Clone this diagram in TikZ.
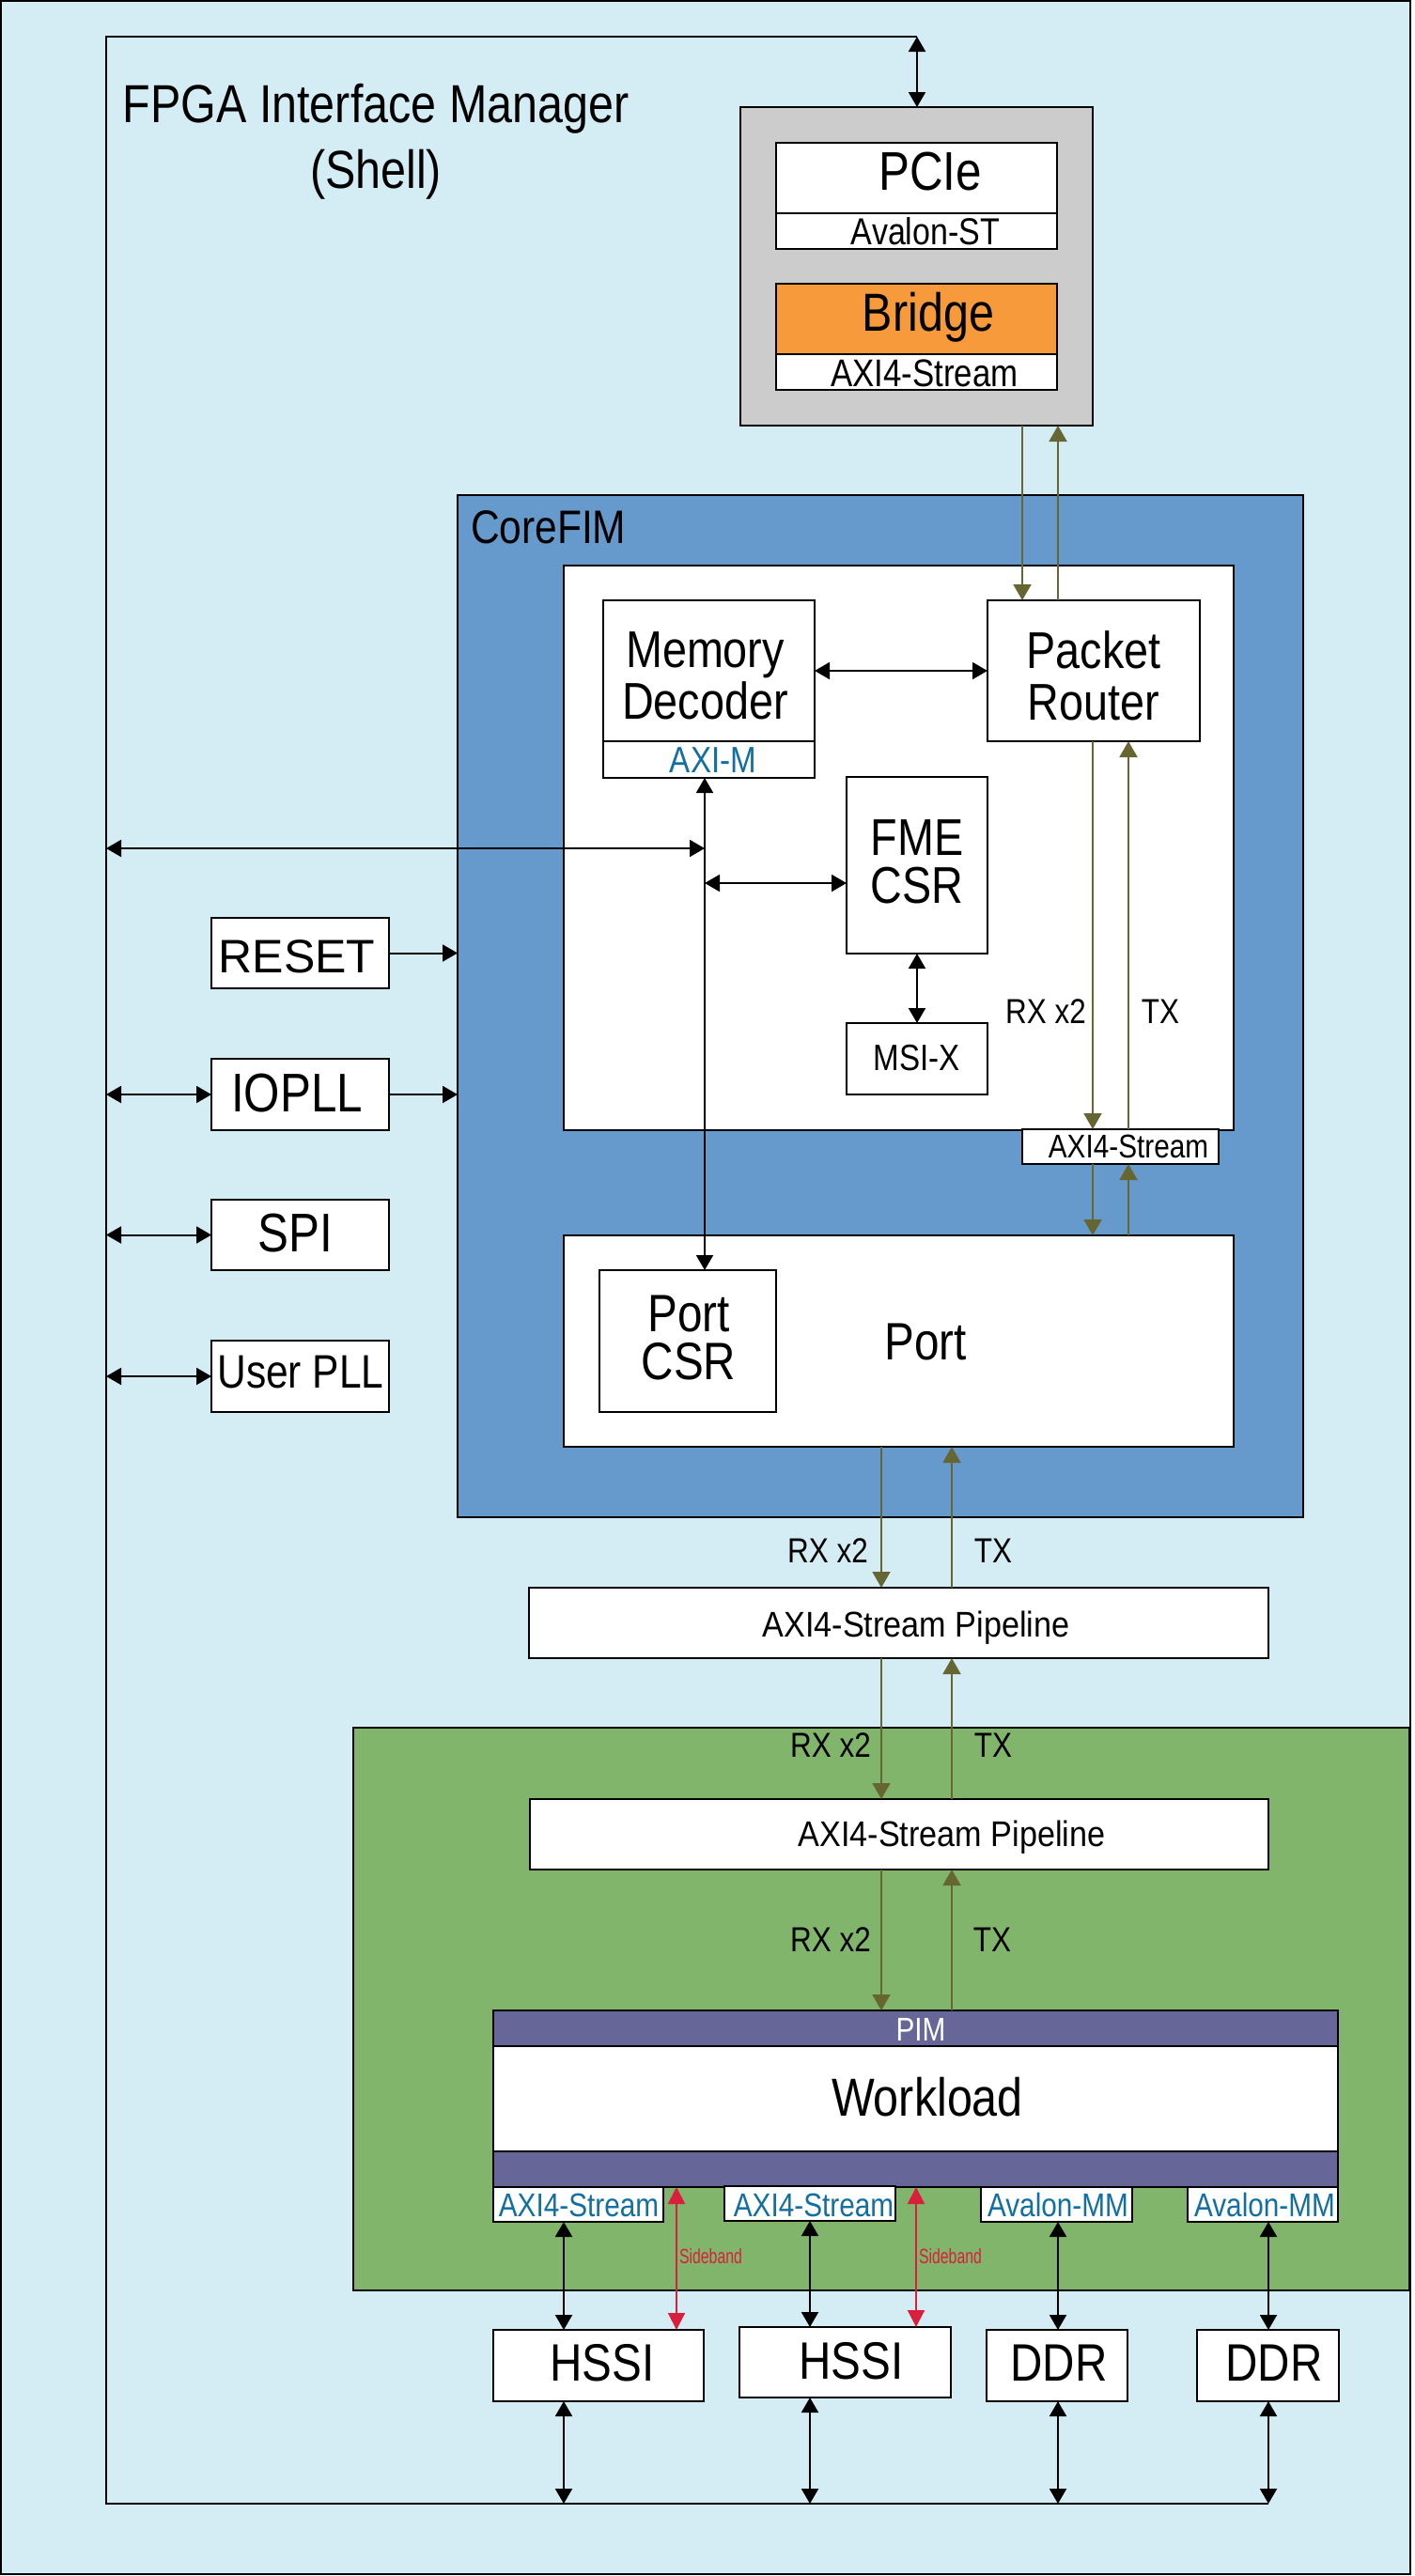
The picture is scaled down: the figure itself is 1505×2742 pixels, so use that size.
\documentclass[tikz,border=0pt]{standalone}
\usepackage{fontspec}
\setmainfont{Liberation Sans}[FakeStretch=0.85]
\newfontfamily\widefont{Liberation Sans}
\newfontfamily\midfont{Liberation Sans}[FakeStretch=0.9]
\newfontfamily\sbfont{Liberation Sans}[FakeStretch=0.72]
\usetikzlibrary{arrows.meta,fit}
\definecolor{bgblue}{HTML}{D4EDF4}
\definecolor{greyc}{HTML}{CCCCCC}
\definecolor{orangec}{HTML}{F79A3B}
\definecolor{corec}{HTML}{6699CC}
\definecolor{greenc}{HTML}{80B56B}
\definecolor{pimc}{HTML}{666699}
\definecolor{olivec}{HTML}{666633}
\definecolor{tblue}{HTML}{136FA0}
\definecolor{sbred}{HTML}{D91F3C}
\newcommand\fsz[1]{\fontsize{#1pt}{#1pt}\selectfont}
\begin{document}
\begin{tikzpicture}[x=1pt,y=-1pt,
 box/.style={draw=black,line width=2pt,fill=white,inner sep=0pt,outer sep=0pt},
 txt/.style={inner sep=0pt,outer sep=0pt,anchor=base},
 two/.style={inner sep=0pt,outer sep=0pt,anchor=center,align=center,
   font={\fontsize{#1pt}{51pt}\selectfont\lineskiplimit=-100pt}},
 twob/.style={inner sep=0pt,outer sep=0pt,anchor=center,align=center,
   font={\fontsize{#1pt}{55pt}\selectfont\lineskiplimit=-100pt}},
 dbl/.style={line width=2pt,draw=black,{Triangle[length=16pt,width=18pt]}-{Triangle[length=16pt,width=18pt]}},
 one/.style={line width=2pt,draw=black,-{Triangle[length=16pt,width=18pt]}},
 oli/.style={line width=2pt,draw=olivec,-{Triangle[length=17pt,width=19pt]}},
 sbarrow/.style={line width=2pt,draw=sbred,{Triangle[length=18pt,width=18pt]}-{Triangle[length=18pt,width=18pt]}}]
\useasboundingbox (0,0) rectangle (1505,2742);
\fill[white] (0,0) rectangle (1505,2742);
\fill[bgblue] (1,1) rectangle (1501,2740);
\draw[line width=2.5pt] (1,1) rectangle (1501,2740);
% loop
\coordinate (lpTop) at (976,39);
\coordinate (lpTL) at (113,39);
\coordinate (lpBL) at (113,2665);
\coordinate (lpBR) at (1350,2665);
\draw[line width=2.5pt] (lpTop) -- (lpTL) -- (lpBL) -- (lpBR);
% title
\node[txt] (t1) at (400,130) {\fsz{57}FPGA Interface Manager};
\node[txt] (t2) at (400,200) {\fsz{57}(Shell)};
% grey PCIe block
\node[box,fill=greyc,fit={(788,114)(1163,453)}] (grey) {};
\node[box,fit={(826,152)(1125,227)}] (pcie) {};
\node[box,fit={(826,227)(1125,265)}] (avst) {};
\node[box,fill=orangec,fit={(826,302)(1125,377)}] (bridge) {};
\node[box,fit={(826,377)(1125,415)}] (baxis) {};
\node[txt] (tpcie) at (990,202) {\fsz{58}PCIe};
\node[txt] (tavst) at (985,260) {\fsz{40}Avalon-ST};
\node[txt] (tbridge) at (988,352) {\fsz{57}Bridge};
\node[txt] (tbaxis) at (984,411) {\fsz{41}AXI4-Stream};
% CoreFIM
\node[box,fill=corec,fit={(487,527)(1387,1615)}] (cf) {};
\node[txt,anchor=base west] (tcf) at (501,578) {\fsz{50}CoreFIM};
\node[box,fit={(600,602)(1313,1203)}] (cfin) {};
\node[box,fit={(642,639)(867,789)}] (md) {};
\node[box,fit={(642,789)(867,828)}] (axim) {};
\node[box,fit={(1051,639)(1277,789)}] (pr) {};
\node[box,fit={(901,827)(1051,1015)}] (fme) {};
\node[box,fit={(901,1089)(1051,1165)}] (msi) {};
\node[box,fit={(1088,1202)(1297,1239)}] (axis) {};
\node[twob=55] (tmd) at (750.5,719) {Memory\\Decoder};
\node[txt,text=tblue] (taxim) at (759,822) {\fsz{39}AXI-M};
\node[twob=55] (tpr) at (1164,719) {Packet\\Router};
\node[two=55] (tfme) at (976,917) {FME\\CSR};
\node[txt] (tmsi) at (976,1139) {\fsz{39}MSI-X};
\node[txt] (trx0) at (1113,1089) {\fsz{37}RX x2};
\node[txt] (ttx0) at (1235,1089) {\fsz{37}TX};
\node[txt] (taxis) at (1201,1232) {\fsz{35}AXI4-Stream};
\node[box,fit={(600,1315)(1313,1540)}] (port) {};
\node[box,fit={(638,1352)(826,1503)}] (pcsr) {};
\node[two=56] (tpcsr) at (733,1424) {Port\\CSR};
\node[txt] (tport) at (985,1447) {\fsz{56}Port};
% left blocks
\node[box,fit={(225,977)(414,1052)}] (reset) {};
\node[box,fit={(225,1127)(414,1203)}] (iopll) {};
\node[box,fit={(225,1277)(414,1352)}] (spi) {};
\node[box,fit={(225,1427)(414,1503)}] (upll) {};
\node[txt] (treset) at (316,1035) {\widefont\fsz{50}RESET};
\node[txt] (tiopll) at (316,1183) {\fsz{58}IOPLL};
\node[txt] (tspi) at (314,1332) {\fsz{58}SPI};
\node[txt] (tupll) at (320,1477) {\fsz{50}User PLL};
% pipeline 1
\node[box,fit={(563,1690)(1350,1765)}] (pipe1) {};
\node[txt] (tpipe1) at (975,1742) {\midfont\fsz{38}AXI4-Stream Pipeline};
\node[txt] (trx1) at (881,1663) {\fsz{37}RX x2};
\node[txt] (ttx1) at (1057,1663) {\fsz{37}TX};
% green region
\node[box,fill=greenc,line width=2.5pt,fit={(376,1839)(1500,2438)}] (grn) {};
\node[txt] (trx2) at (884,1870) {\fsz{37}RX x2};
\node[txt] (ttx2) at (1057,1870) {\fsz{37}TX};
\node[box,fit={(564,1915)(1350,1990)}] (pipe2) {};
\node[txt] (tpipe2) at (1013,1965) {\midfont\fsz{38}AXI4-Stream Pipeline};
\node[txt] (trx3) at (884,2077) {\fsz{37}RX x2};
\node[txt] (ttx3) at (1056,2077) {\fsz{37}TX};
\node[box,fill=pimc,fit={(525,2140)(1424,2178)}] (pim) {};
\node[box,fit={(525,2178)(1424,2290)}] (wl) {};
\node[box,fill=pimc,fit={(525,2290)(1424,2328)}] (wlb) {};
\node[txt,text=white] (tpim) at (980,2172) {\fsz{35}PIM};
\node[txt] (twl) at (987,2252) {\fsz{57}Workload};
\node[box,fit={(525,2328)(706,2365)}] (if1) {};
\node[box,fit={(771,2327)(953,2364)}] (if2) {};
\node[box,fit={(1044,2328)(1205,2365)}] (if3) {};
\node[box,fit={(1264,2328)(1424,2365)}] (if4) {};
\node[txt,text=tblue] (tif1) at (616,2359) {\fsz{35}AXI4-Stream};
\node[txt,text=tblue] (tif2) at (866,2359) {\fsz{35}AXI4-Stream};
\node[txt,text=tblue] (tif3) at (1126,2359) {\fsz{35}Avalon-MM};
\node[txt,text=tblue] (tif4) at (1346,2359) {\fsz{35}Avalon-MM};
\node[txt,anchor=base west,text=sbred] (tsb1) at (723,2409) {\sbfont\fsz{22}Sideband};
\node[txt,anchor=base west,text=sbred] (tsb2) at (978,2409) {\sbfont\fsz{22}Sideband};
% devices
\node[box,fit={(525,2480)(749,2556)}] (hssi1) {};
\node[box,fit={(787,2477)(1012,2552)}] (hssi2) {};
\node[box,fit={(1050,2480)(1200,2556)}] (ddr1) {};
\node[box,fit={(1274,2480)(1425,2556)}] (ddr2) {};
\node[txt] (thssi1) at (641,2534) {\fsz{56}HSSI};
\node[txt] (thssi2) at (906,2532) {\fsz{56}HSSI};
\node[txt] (tddr1) at (1127,2534) {\fsz{56}DDR};
\node[txt] (tddr2) at (1356,2534) {\fsz{56}DDR};
% coordinates for connector columns
\coordinate (vx) at (750,0);
\coordinate (hy) at (0,903);
\coordinate (fy) at (0,940);
\coordinate (o1) at (1088,0);
\coordinate (o2) at (1126,0);
\coordinate (o3) at (1163,0);
\coordinate (o4) at (1201,0);
\coordinate (o5) at (938,0);
\coordinate (o6) at (1013,0);
\coordinate (c1) at (600,0);
\coordinate (c2) at (862,0);
\coordinate (c3) at (1126,0);
\coordinate (c4) at (1350,0);
\coordinate (s1) at (720,0);
\coordinate (s2) at (975,0);
% black connectors
\draw[dbl] (lpTop) -- (grey.north -| lpTop);
\draw[dbl] (md.east) -- (pr.west);
\draw[dbl] (axim.south -| vx) -- (pcsr.north -| vx);
\draw[dbl] (lpTL |- hy) -- (vx |- hy);
\draw[dbl] (vx |- fy) -- (fme.west |- fy);
\draw[dbl] (fme.south) -- (msi.north);
\draw[one] (reset.east) -- (cf.west |- reset.east);
\draw[one] (iopll.east) -- (cf.west |- iopll.east);
\draw[dbl] (lpTL |- iopll.west) -- (iopll.west);
\draw[dbl] (lpTL |- spi.west) -- (spi.west);
\draw[dbl] (lpTL |- upll.west) -- (upll.west);
% olive connectors
\draw[oli] (grey.south -| o1) -- (pr.north -| o1);
\draw[oli] (pr.north -| o2) -- (grey.south -| o2);
\draw[oli] (pr.south -| o3) -- (axis.north -| o3);
\draw[oli] (axis.north -| o4) -- (pr.south -| o4);
\draw[oli] (axis.south -| o3) -- (port.north -| o3);
\draw[oli] (port.north -| o4) -- (axis.south -| o4);
\draw[oli] (port.south -| o5) -- (pipe1.north -| o5);
\draw[oli] (pipe1.north -| o6) -- (port.south -| o6);
\draw[oli] (pipe1.south -| o5) -- (pipe2.north -| o5);
\draw[oli] (pipe2.north -| o6) -- (pipe1.south -| o6);
\draw[oli] (pipe2.south -| o5) -- (pim.north -| o5);
\draw[oli] (pim.north -| o6) -- (pipe2.south -| o6);
% interfaces to devices
\draw[dbl] (if1.south -| c1) -- (hssi1.north -| c1);
\draw[dbl] (if2.south -| c2) -- (hssi2.north -| c2);
\draw[dbl] (if3.south -| c3) -- (ddr1.north -| c3);
\draw[dbl] (if4.south -| c4) -- (ddr2.north -| c4);
\draw[sbarrow] (wlb.south -| s1) -- (hssi1.north -| s1);
\draw[sbarrow] (wlb.south -| s2) -- (hssi2.north -| s2);
% devices to loop
\draw[dbl] (hssi1.south -| c1) -- (lpBL -| c1);
\draw[dbl] (hssi2.south -| c2) -- (lpBL -| c2);
\draw[dbl] (ddr1.south -| c3) -- (lpBL -| c3);
\draw[dbl] (ddr2.south -| c4) -- (lpBL -| c4);
\end{tikzpicture}
\end{document}
